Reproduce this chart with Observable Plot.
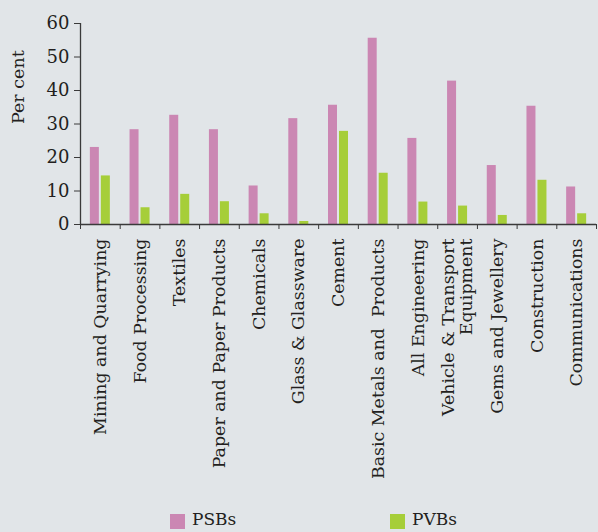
<!DOCTYPE html>
<html><head><meta charset="utf-8">
<script src="https://cdn.jsdelivr.net/npm/d3@7"></script>
<script src="https://cdn.jsdelivr.net/npm/@observablehq/plot@0.6"></script>
<style>
html,body{margin:0;padding:0;background:#e1e5e8;}
#chart{width:598px;height:532px;position:relative;font-family:"DejaVu Serif",serif;color:#231f20;}
.legend{position:relative;height:32px;width:598px;}
.sw{position:absolute;top:14px;width:15px;height:15px;}
.lt{position:absolute;top:9px;font-size:17px;line-height:20px;}
</style></head><body>
<div id="chart"></div>
<script>
const categories = ["Mining and Quarrying","Food Processing","Textiles","Paper and Paper Products","Chemicals","Glass & Glassware","Cement","Basic Metals and  Products","All Engineering","Vehicle & Transport\nEquipment","Gems and Jewellery","Construction","Communications"];
const psb = [23.0, 28.3, 32.6, 28.3, 11.5, 31.6, 35.6, 55.6, 25.7, 42.8, 17.6, 35.3, 11.2];
const pvb = [14.5, 5.0, 9.0, 6.8, 3.2, 0.9, 27.8, 15.3, 6.7, 5.5, 2.7, 13.2, 3.2];
const series = ["PSBs","PVBs"];
const colors = ["#cb87b3","#a6ce39"];
const yTicks = [0,10,20,30,40,50,60];
const yLabel = "Per cent";

const W = 598, H = 500, mL = 80, mR = 2, mT = 23, mB = 276;
const bw = (W - mL - mR) / categories.length;
const barW = 9, gap = 2;
const fs = 17.4, lh = 17.7 / 17.4;

const rows = categories.flatMap((c, i) => [
  {cat: c, series: "PSBs", value: psb[i]},
  {cat: c, series: "PVBs", value: pvb[i]}
]);

const plot = Plot.plot({
  width: W, height: H,
  marginLeft: mL, marginRight: mR, marginTop: mT, marginBottom: mB,
  style: {background: "transparent", fontFamily: "DejaVu Serif, serif", color: "#231f20", overflow: "visible"},
  x: {domain: categories, padding: 0, round: false, axis: null},
  y: {domain: [0, 60], axis: null},
  color: {domain: series, range: colors},
  marks: [
    Plot.barY(rows.filter(d => d.series === "PSBs"), {x: "cat", y: "value", fill: "series",
      insetLeft: bw/2 - gap/2 - barW, insetRight: bw/2 + gap/2}),
    Plot.barY(rows.filter(d => d.series === "PVBs"), {x: "cat", y: "value", fill: "series",
      insetLeft: bw/2 + gap/2, insetRight: bw/2 - gap/2 - barW}),
    Plot.ruleY([0], {stroke: "#3a3a3a", strokeWidth: 1.3}),
    Plot.ruleX([categories[0]], {dx: -bw/2, y1: 0, y2: 60, stroke: "#3a3a3a", strokeWidth: 1.3}),
    Plot.axisY(yTicks, {anchor: "left", label: null, tickSize: 6, tickPadding: 5, fontSize: 18, stroke: "#3a3a3a", fill: "#231f20"}),
    Plot.axisX(categories, {anchor: "bottom", label: null, tickSize: 5, tickFormat: () => "", dx: -bw/2, stroke: "#3a3a3a"}),
    Plot.axisX([categories[categories.length - 1]], {anchor: "bottom", label: null, tickSize: 5, tickFormat: () => "", dx: bw/2, stroke: "#3a3a3a"}),
    Plot.text(categories, {x: d => d, y: 0, dy: 14, rotate: -90, textAnchor: "end", lineAnchor: "middle", lineHeight: lh, fontSize: fs, fill: "#231f20"}),
    Plot.text([yLabel], {y: 30, frameAnchor: "left", dx: -62, rotate: -90, fontSize: 17.5, fill: "#231f20"})
  ]
});
const chart = document.getElementById("chart");
chart.appendChild(plot);

const legend = document.createElement("div");
legend.className = "legend";
const legendX = [170, 390];
series.forEach((s, i) => {
  const sw = document.createElement("span");
  sw.className = "sw";
  sw.style.left = legendX[i] + "px";
  sw.style.background = colors[i];
  const t = document.createElement("span");
  t.className = "lt";
  t.style.left = (legendX[i] + 22) + "px";
  t.textContent = s;
  legend.appendChild(sw);
  legend.appendChild(t);
});
chart.appendChild(legend);
</script>
</body></html>
